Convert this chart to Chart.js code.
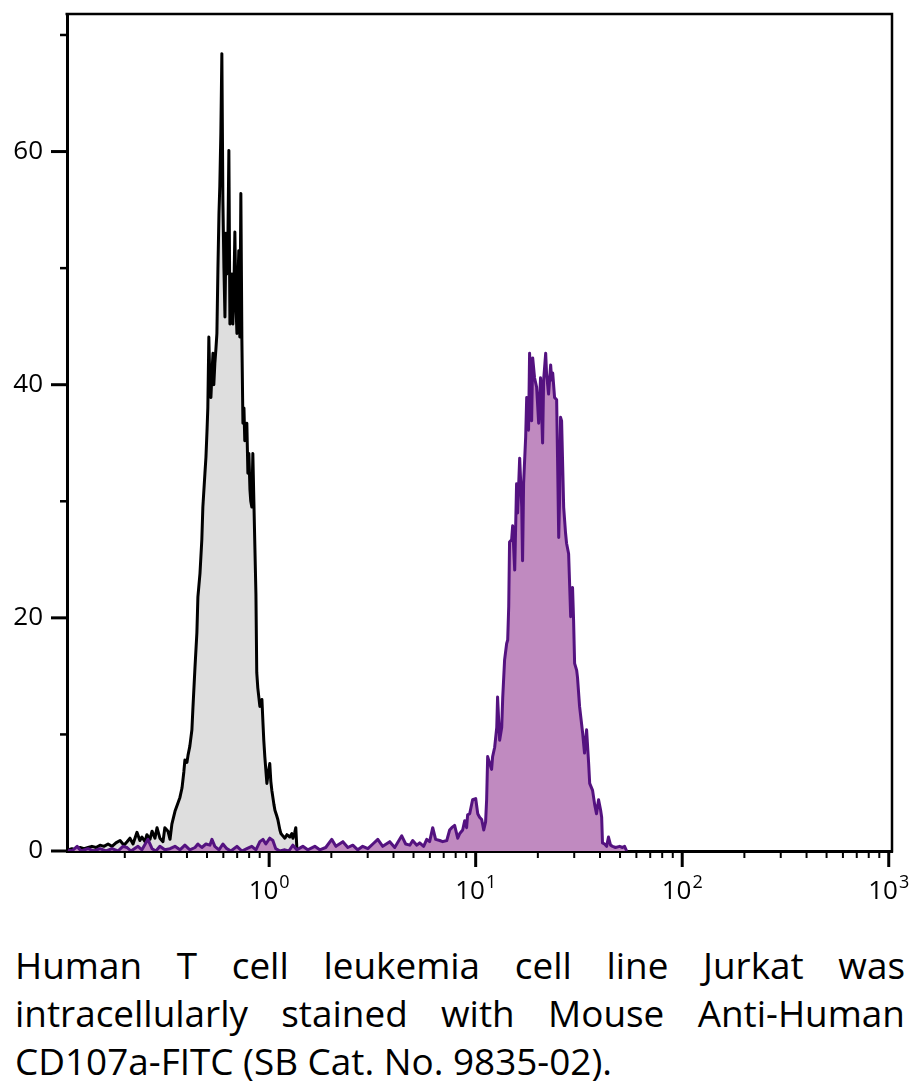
<!DOCTYPE html>
<html>
<head>
<meta charset="utf-8">
<script src="https://cdn.jsdelivr.net/npm/chart.js@4.4.1/dist/chart.umd.min.js"></script>
<style>
  html, body { margin: 0; padding: 0; background: #fff; }
  body { width: 920px; height: 1088px; position: relative; overflow: hidden; }
  #wrap { position: absolute; left: 0; top: 0; width: 920px; height: 910px; }
  #cap { position: absolute; left: 15px; top: 942px; font-family: "Open Sans", sans-serif;
         font-size: 36px; line-height: 48px; color: #000; transform-origin: 0 0; width: 890px; }
  #cap .j { text-align: justify; text-align-last: justify; }
  #cap .l { white-space: nowrap; }
</style>
</head>
<body>
<div id="wrap"><canvas id="c" width="920" height="910"></canvas></div>
<div id="cap">
  <div class="j">Human T cell leukemia cell line Jurkat was</div>
  <div class="j">intracellularly stained with Mouse Anti-Human</div>
  <div><span class="l" id="last">CD107a-FITC (SB Cat. No. 9835-02).</span></div>
</div>
<script>
// ---------- data (x as log10 of fluorescence intensity, y = cell counts) ----------
const isotypeLogX = [
  -0.974,-0.955,-0.935,-0.916,-0.896,-0.877,-0.858,-0.838,-0.819,-0.800,
  -0.780,-0.761,-0.742,-0.722,-0.703,-0.688,-0.674,-0.659,-0.640,-0.626,
  -0.616,-0.601,-0.592,-0.577,-0.567,-0.553,-0.543,-0.529,-0.514,-0.505,
  -0.490,-0.480,-0.471,-0.456,-0.442,-0.432,-0.422,-0.413,-0.408,-0.398,
  -0.393,-0.384,-0.374,-0.369,-0.359,-0.350,-0.345,-0.335,-0.326,-0.321,
  -0.311,-0.306,-0.301,-0.297,-0.292,-0.287,-0.282,-0.277,-0.272,-0.268,
  -0.263,-0.258,-0.253,-0.248,-0.243,-0.239,-0.234,-0.229,-0.224,-0.219,
  -0.214,-0.209,-0.205,-0.200,-0.195,-0.190,-0.185,-0.180,-0.176,-0.171,
  -0.166,-0.161,-0.156,-0.151,-0.147,-0.142,-0.137,-0.132,-0.127,-0.122,
  -0.118,-0.113,-0.108,-0.103,-0.098,-0.093,-0.089,-0.084,-0.079,-0.074,
  -0.069,-0.064,-0.060,-0.055,-0.045,-0.035,-0.030,-0.026,-0.021,-0.011,
  -0.006,0.003,0.008,0.013,0.023,0.028,0.037,0.042,0.052,0.057,
  0.066,0.076,0.086,0.100,0.110,0.115,0.124,0.129,0.134,0.139,
  0.149
];
const isotypeCounts = [
  0.1,0.2,0.1,0.3,0.2,0.3,0.4,0.3,0.5,0.4,
  0.6,0.4,0.7,0.9,0.5,0.8,1.1,0.6,1.6,0.9,
  1.2,0.8,1.4,1.0,1.7,1.1,2.0,1.1,0.8,2.0,
  1.7,1.0,2.3,3.4,4.1,4.6,5.4,6.8,7.8,7.6,
  8.2,9.0,10.4,12.3,15.8,18.7,21.8,23.8,26.7,29.5,
  32.4,33.8,36.0,38.0,44.1,40.0,38.9,41.0,42.7,40.0,
  41.8,43.0,44.4,50.0,54.7,57.0,61.5,68.4,55.8,50.0,
  45.8,53.0,49.5,52.0,60.1,45.2,47.0,49.5,45.2,48.0,
  53.1,47.0,44.4,48.9,51.5,44.1,56.4,43.8,36.7,38.0,
  35.2,36.0,36.7,32.4,34.1,31.0,30.0,29.5,34.1,30.0,
  26.0,22.0,15.3,14.0,12.4,13.0,11.0,9.5,8.1,5.8,
  6.5,7.5,6.0,5.2,4.0,3.5,3.0,2.7,1.8,1.5,
  1.3,1.1,1.4,1.2,1.5,1.1,1.6,2.0,0.3,0.1,
  0
];
const cd107aLogX = [
  -0.974,-0.955,-0.930,-0.911,-0.877,-0.848,-0.819,-0.790,-0.761,-0.732,
  -0.708,-0.688,-0.669,-0.635,-0.616,-0.587,-0.567,-0.548,-0.529,-0.505,
  -0.480,-0.456,-0.432,-0.408,-0.384,-0.359,-0.345,-0.326,-0.306,-0.287,
  -0.277,-0.263,-0.243,-0.224,-0.205,-0.185,-0.156,-0.132,-0.108,-0.084,
  -0.064,-0.045,-0.030,-0.016,0.003,0.018,0.032,0.052,0.076,0.095,
  0.115,0.134,0.163,0.187,0.221,0.245,0.274,0.303,0.323,0.357,
  0.381,0.405,0.429,0.453,0.478,0.502,0.526,0.550,0.584,0.608,
  0.642,0.661,0.681,0.695,0.715,0.729,0.748,0.763,0.777,0.792,
  0.806,0.826,0.840,0.860,0.874,0.884,0.898,0.913,0.923,0.937,
  0.947,0.956,0.961,0.971,0.985,1.000,1.010,1.019,1.029,1.039,
  1.048,1.053,1.058,1.068,1.077,1.082,1.092,1.102,1.106,1.116,
  1.126,1.131,1.140,1.150,1.155,1.160,1.164,1.174,1.179,1.189,
  1.198,1.203,1.213,1.223,1.227,1.232,1.242,1.247,1.256,1.261,
  1.271,1.276,1.285,1.295,1.305,1.314,1.324,1.329,1.339,1.343,
  1.353,1.363,1.368,1.373,1.382,1.392,1.397,1.402,1.406,1.411,
  1.416,1.426,1.435,1.440,1.450,1.460,1.464,1.469,1.474,1.479,
  1.489,1.493,1.503,1.518,1.527,1.537,1.547,1.552,1.566,1.576,
  1.585,1.595,1.605,1.610,1.614,1.624,1.634,1.643,1.653,1.663,
  1.677,1.697,1.711,1.721,1.731
];
const cd107aCounts = [
  0.1,0,0.4,0,0.2,0,0.2,0,0.2,0,
  0.4,0.3,0,0.4,0.1,1.0,0.2,0,0.4,0.1,
  0.2,0.4,0.1,0.5,0.1,0.3,0.6,0.3,0.6,0.5,
  1.0,0.4,0.1,0.6,0.2,0,0.4,0,0.2,0.4,
  0.1,0.8,1.0,0.6,1.1,0.9,0.2,0,0.1,0,
  0.5,0.1,0.4,0.1,0.4,0.1,0.3,1.0,0.4,0.8,
  0.3,0.5,0.1,0.4,0.2,0.6,1.0,0.4,0.8,0.3,
  1.3,0.6,0.5,0.9,0.5,0.7,0.4,1.0,0.8,2.0,
  1.0,0.9,0.8,0.9,1.8,2.0,2.2,1.1,1.5,1.8,
  2.6,2.0,3.1,3.2,4.4,4.5,3.2,2.9,2.7,1.8,
  2.5,4.4,8.1,7.5,7.0,8.1,8.9,10.6,13.2,9.5,
  10.6,13.2,16.4,17.8,18.1,21.0,26.5,26.7,27.9,24.1,
  31.5,29.0,33.7,29.5,24.9,31.5,35.5,38.9,36.1,42.7,
  36.9,42.3,40.6,39.8,36.7,40.6,35.0,40.4,42.7,41.0,
  39.2,41.7,40.4,41.0,38.9,38.7,33.0,26.9,30.0,37.2,
  36.9,29.5,27.3,26.4,25.5,20.1,20.4,22.6,19.8,16.1,
  15.5,14.9,12.4,10.1,8.4,10.4,7.5,5.8,5.2,4.0,
  3.2,4.4,3.5,2.9,0.7,0.6,0.4,1.2,0.5,0.4,
  0.3,0.4,0.3,0.4,0
];
const xMajorTicks = [1, 10, 100, 1000];
const xTickBase = ['10', '10', '10', '10'];
const xTickExp = ['0', '1', '2', '3'];
const yMajorTicks = [0, 20, 40, 60];
const yMinorTicks = [10, 30, 50, 70];

// ---------- helpers ----------
const toPoints = (lx, ys) => lx.map((l, i) => ({ x: Math.pow(10, l), y: ys[i] }));
const xMinorTicks = [];
[0.1, 1, 10, 100].forEach(d => { for (let k = 2; k <= 9; k++) xMinorTicks.push(k * d); });

const FONT = '"Open Sans", sans-serif';

const decor = {
  id: 'decor',
  afterDraw(chart) {
    const ctx = chart.ctx, a = chart.chartArea, xs = chart.scales.x, ys = chart.scales.y;
    ctx.save();
    ctx.strokeStyle = '#000';
    ctx.lineCap = 'butt';
    // top and right frame
    ctx.lineWidth = 2.5;
    ctx.beginPath();
    ctx.moveTo(a.left - 1.5, a.top); ctx.lineTo(a.right, a.top);
    ctx.moveTo(a.right, a.top - 1.25); ctx.lineTo(a.right, a.bottom + 1.5);
    ctx.stroke();
    // x ticks
    ctx.lineWidth = 3;
    xMajorTicks.forEach(v => {
      const p = xs.getPixelForValue(v);
      ctx.beginPath(); ctx.moveTo(p, a.bottom); ctx.lineTo(p, a.bottom + 16); ctx.stroke();
    });
    ctx.lineWidth = 2;
    xMinorTicks.forEach(v => {
      if (v < xs.min || v > xs.max) return;
      const p = xs.getPixelForValue(v);
      ctx.beginPath(); ctx.moveTo(p, a.bottom); ctx.lineTo(p, a.bottom + 7); ctx.stroke();
    });
    // y ticks
    ctx.lineWidth = 3;
    yMajorTicks.forEach(v => {
      const p = ys.getPixelForValue(v);
      ctx.beginPath(); ctx.moveTo(a.left - 16, p); ctx.lineTo(a.left, p); ctx.stroke();
    });
    ctx.lineWidth = 2.5;
    yMinorTicks.forEach(v => {
      const p = ys.getPixelForValue(v);
      ctx.beginPath(); ctx.moveTo(a.left - 7, p); ctx.lineTo(a.left, p); ctx.stroke();
    });
    // x tick labels 10^n
    ctx.fillStyle = '#000';
    ctx.textBaseline = 'alphabetic';
    ctx.textAlign = 'left';
    xMajorTicks.forEach((v, i) => {
      const p = xs.getPixelForValue(v);
      ctx.font = '26px ' + FONT;
      const w1 = ctx.measureText(xTickBase[i]).width;
      ctx.font = '18px ' + FONT;
      const w2 = ctx.measureText(xTickExp[i]).width;
      const x0 = p - (w1 + w2 + 1) / 2;
      ctx.font = '26px ' + FONT;
      ctx.fillText(xTickBase[i], x0, a.bottom + 48);
      ctx.font = '18px ' + FONT;
      ctx.fillText(xTickExp[i], x0 + w1 + 1, a.bottom + 37);
    });
    ctx.restore();
  }
};

new Chart(document.getElementById('c'), {
  type: 'line',
  data: {
    datasets: [
      {
        label: 'CD107a-FITC',
        data: toPoints(cd107aLogX, cd107aCounts),
        borderColor: 'rgb(84,18,128)',
        backgroundColor: 'rgb(192,138,192)',
        borderWidth: 3,
        fill: 'origin',
        pointRadius: 0,
        tension: 0,
        borderJoinStyle: 'round',
        order: 0
      },
      {
        label: 'Isotype control',
        data: toPoints(isotypeLogX, isotypeCounts),
        borderColor: '#000',
        backgroundColor: 'rgb(222,222,222)',
        borderWidth: 3,
        fill: 'origin',
        pointRadius: 0,
        tension: 0,
        borderJoinStyle: 'round',
        order: 1
      }
    ]
  },
  options: {
    responsive: false,
    animation: false,
    devicePixelRatio: 1,
    layout: { padding: { top: 14, right: 28, left: 0, bottom: 0 } },
    plugins: { legend: { display: false }, tooltip: { enabled: false } },
    scales: {
      x: {
        type: 'logarithmic',
        min: 0.105,
        max: 1037,
        grid: { display: false, drawTicks: false },
        border: { display: true, color: '#000', width: 3 },
        ticks: { display: false },
        afterFit(s) { s.height = 59; s.paddingLeft = 0; s.paddingRight = 0; }
      },
      y: {
        type: 'linear',
        min: 0,
        max: 71.8,
        grid: { display: false, drawTicks: false },
        border: { display: true, color: '#000', width: 3 },
        ticks: {
          stepSize: 10,
          padding: 24,
          color: '#000',
          font: { family: FONT, size: 26 },
          callback: (v) => (yMajorTicks.includes(v) ? String(v) : '')
        },
        afterFit(s) { s.width = 67; s.paddingTop = 0; s.paddingBottom = 0; }
      }
    }
  },
  plugins: [decor]
});

// caption: compress horizontally to match reference typeface width
(function () {
  const cap = document.getElementById('cap');
  const w = document.getElementById('last').getBoundingClientRect().width;
  const target = 597;
  const s = target / w;
  cap.style.width = (890 / s) + 'px';
  cap.style.transform = 'scaleX(' + s + ')';
})();
</script>
</body>
</html>
